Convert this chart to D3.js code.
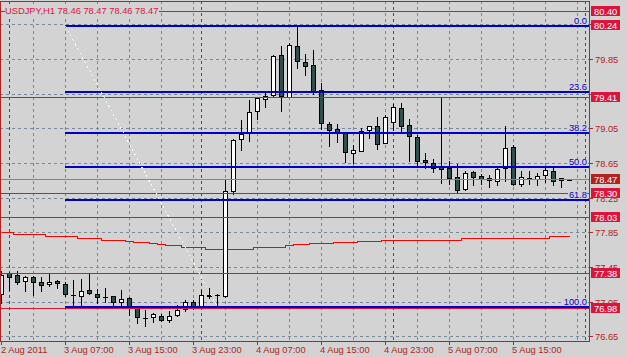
<!DOCTYPE html>
<html>
<head>
<meta charset="utf-8">
<script src="https://cdn.jsdelivr.net/npm/d3@7"></script>
<style>
  html, body { margin: 0; padding: 0; background: #d3d3d3; overflow: hidden; }
  svg { display: block; }
  text { font-family: "Liberation Sans", Arial, sans-serif; font-size: 9.3px; }
</style>
</head>
<body>
<div id="chart"></div>
<script>
// USDJPY H1, one value per hourly bar (bar 0 = 2 Aug 2011 23:00)
const symbol = 'USDJPY,H1';
const lastOHLC = [78.46, 78.47, 78.46, 78.47];

const open = [
  77.145, 77.376, 77.353, 77.287, 77.341, 77.283, 77.255, 77.290, 77.257, 77.130,
  77.119, 77.188, 77.145, 77.100, 77.111, 77.047, 77.095, 76.980, 76.865, 76.876,
  76.888, 76.845, 76.895, 76.964, 77.049, 76.980, 77.120, 77.133, 77.114, 78.324,
  78.928, 78.997, 79.251, 79.385, 79.435, 79.897, 79.412, 80.004, 79.816, 79.785,
  79.493, 79.101, 79.047, 79.001, 78.767, 78.790, 79.035, 79.078, 78.882, 79.124,
  79.286, 79.090, 78.951, 78.686, 78.652, 78.606, 78.594, 78.490, 78.347, 78.551,
  78.502, 78.482, 78.439, 78.589, 78.836, 78.405, 78.476, 78.467, 78.509, 78.563,
  78.456, 78.460
];
const high = [
  77.399, 77.393, 77.410, 77.349, 77.349, 77.341, 77.379, 77.303, 77.275, 77.306,
  77.318, 77.379, 77.200, 77.214, 77.117, 77.191, 77.104, 76.984, 76.952, 76.922,
  76.903, 76.941, 77.018, 77.072, 77.075, 77.180, 77.211, 77.141, 78.471, 78.932,
  79.151, 79.381, 79.404, 79.473, 79.897, 80.004, 80.035, 80.234, 79.912, 79.958,
  79.574, 79.124, 79.105, 79.004, 78.863, 79.050, 79.082, 79.182, 79.208, 79.335,
  79.343, 79.159, 78.978, 78.767, 78.701, 79.412, 78.678, 78.644, 78.563, 78.555,
  78.528, 78.513, 78.617, 79.082, 78.859, 78.555, 78.563, 78.532, 78.606, 78.594,
  78.482, 78.470
];
const low = [
  77.041, 77.180, 77.249, 77.171, 77.133, 77.170, 77.230, 77.211, 77.114, 76.980,
  77.000, 77.142, 77.033, 77.044, 77.018, 77.018, 76.897, 76.803, 76.768, 76.814,
  76.826, 76.814, 76.883, 76.941, 76.969, 76.978, 77.095, 76.987, 77.110, 78.294,
  78.797, 78.901, 79.159, 79.297, 79.408, 79.246, 79.410, 79.747, 79.669, 79.442,
  79.047, 78.843, 78.890, 78.663, 78.652, 78.788, 78.940, 78.813, 78.880, 79.036,
  79.009, 78.670, 78.606, 78.594, 78.543, 78.416, 78.410, 78.317, 78.336, 78.402,
  78.413, 78.375, 78.393, 78.439, 78.393, 78.382, 78.405, 78.393, 78.428, 78.393,
  78.370, 78.460
];
const close = [
  77.364, 77.335, 77.275, 77.330, 77.275, 77.240, 77.280, 77.264, 77.142, 77.130,
  77.176, 77.149, 77.105, 77.100, 77.045, 77.087, 76.980, 76.876, 76.865, 76.903,
  76.840, 76.888, 76.957, 77.049, 76.976, 77.122, 77.130, 77.133, 78.324, 78.920,
  78.986, 79.240, 79.401, 79.424, 79.885, 79.419, 80.012, 79.823, 79.765, 79.477,
  79.108, 79.032, 79.004, 78.778, 78.801, 79.024, 79.078, 78.871, 79.182, 79.297,
  79.078, 78.963, 78.670, 78.663, 78.594, 78.583, 78.479, 78.340, 78.540, 78.486,
  78.467, 78.456, 78.586, 78.825, 78.405, 78.490, 78.479, 78.505, 78.574, 78.439,
  78.479, 78.470
];
// slow moving average (red line)
const ma = [
  77.849, 77.849, 77.837, 77.837, 77.826, 77.826, 77.814, 77.814, 77.803, 77.803,
  77.791, 77.780, 77.780, 77.768, 77.757, 77.757, 77.745, 77.734, 77.734, 77.722,
  77.711, 77.699, 77.699, 77.687, 77.676, 77.676, 77.664, 77.664, 77.664, 77.664,
  77.664, 77.664, 77.676, 77.676, 77.687, 77.687, 77.699, 77.711, 77.711, 77.722,
  77.722, 77.722, 77.734, 77.734, 77.734, 77.745, 77.745, 77.745, 77.757, 77.757,
  77.757, 77.768, 77.768, 77.768, 77.768, 77.768, 77.768, 77.768, 77.780, 77.780,
  77.780, 77.780, 77.780, 77.780, 77.791, 77.791, 77.791, 77.791, 77.791, 77.803,
  77.803, 77.803
];

const priceTicks = [80.25, 79.85, 79.45, 79.05, 78.65, 78.25, 77.85, 77.45, 77.05, 76.65];
const hLines = [80.40, 79.41, 78.30, 78.03, 77.38, 76.98];
const lineLabels = [80.40, 80.24, 79.41, 78.30, 78.03, 77.38, 76.98];
const bid = 78.47;

const fibLevels = [0.0, 23.6, 38.2, 50.0, 61.8, 100.0];
const fibFrom = { bar: 8, price: 80.24 };
const fibTo = { bar: 27, price: 77.00 };

const timeTickBars = [0, 8, 16, 24, 32, 40, 48, 56, 64];
const timeTickLabels = ['2 Aug 2011', '3 Aug 07:00', '3 Aug 15:00', '3 Aug 23:00', '4 Aug 07:00',
  '4 Aug 15:00', '4 Aug 23:00', '5 Aug 07:00', '5 Aug 15:00'];
const daySeparatorBars = [1, 25, 49, 73];

const W = 627, H = 357;
const plot = { left: 0, right: 589, top: 1, bottom: 341 };

const bg = '#d3d3d3';
const fg = '#b22222';
const gridColor = '#778899';
const lineColor = '#dc143c';
const fibColor = '#0000cd';

const x = d3.scaleLinear().domain([0, 73]).range([1, 585]);
const y = d3.scaleLinear().domain([76.65, 80.25]).range([336.9, 24.9]);
const row = p => Math.floor(y(p));

const svg = d3.select('#chart').append('svg')
  .attr('width', W).attr('height', H)
  .attr('shape-rendering', 'crispEdges');

svg.append('rect').attr('width', W).attr('height', H).attr('fill', bg);

svg.append('clipPath').attr('id', 'plotclip')
  .append('rect')
  .attr('x', plot.left + 1).attr('y', plot.top + 1)
  .attr('width', plot.right - plot.left - 1).attr('height', plot.bottom - plot.top - 1);

const g = svg.append('g').attr('clip-path', 'url(#plotclip)');

// grid
g.append('g').selectAll('line.hgrid')
  .data(priceTicks)
  .join('line')
  .attr('x1', 0).attr('x2', plot.right)
  .attr('y1', d => row(d) + 0.5).attr('y2', d => row(d) + 0.5)
  .attr('stroke', gridColor).attr('stroke-dasharray', '3,3');

g.append('g').selectAll('line.vgrid')
  .data(d3.range(4, 73, 4))
  .join('line')
  .attr('x1', d => x(d) + 0.5).attr('x2', d => x(d) + 0.5)
  .attr('y1', plot.top).attr('y2', plot.bottom)
  .attr('stroke', gridColor).attr('stroke-dasharray', '3,3');

// day separators
g.append('g').selectAll('line')
  .data(daySeparatorBars)
  .join('line')
  .attr('x1', d => x(d) + 0.5).attr('x2', d => x(d) + 0.5)
  .attr('y1', plot.top).attr('y2', plot.bottom)
  .attr('stroke', fg).attr('stroke-dasharray', '3,3');

// moving average
const maLine = d3.line()
  .x((d, i) => x(i) + 0.5)
  .y(d => row(d) + 0.5)
  .curve(d3.curveStep);
g.append('path')
  .datum(ma)
  .attr('d', maLine)
  .attr('fill', 'none')
  .attr('stroke', '#ff0000');

// candles
const bars = open.map((o, i) => ({ i, o, h: high[i], l: low[i], c: close[i] }));
const candle = g.append('g').selectAll('g')
  .data(bars)
  .join('g');

candle.append('line')
  .attr('x1', d => x(d.i) + 0.5).attr('x2', d => x(d.i) + 0.5)
  .attr('y1', d => row(d.h)).attr('y2', d => row(d.l) + 1)
  .attr('stroke', '#000');

candle.each(function (d) {
  const sel = d3.select(this);
  const top = row(Math.max(d.o, d.c));
  const bot = row(Math.min(d.o, d.c));
  const cx = x(d.i);
  if (bot - top < 1) {
    sel.append('line')
      .attr('x1', cx - 2).attr('x2', cx + 3)
      .attr('y1', top + 0.5).attr('y2', top + 0.5)
      .attr('stroke', '#000');
  } else {
    sel.append('rect')
      .attr('x', cx - 1.5).attr('y', top + 0.5)
      .attr('width', 4).attr('height', bot - top)
      .attr('fill', d.c >= d.o ? '#ffffff' : '#2f4f4f')
      .attr('stroke', '#000');
  }
});

// horizontal lines
g.append('g').selectAll('line')
  .data(hLines)
  .join('line')
  .attr('x1', 0).attr('x2', plot.right)
  .attr('y1', d => row(d) + 0.5).attr('y2', d => row(d) + 0.5)
  .attr('stroke', lineColor);

// bid line
g.append('line')
  .attr('x1', 0).attr('x2', plot.right)
  .attr('y1', row(bid) + 0.5).attr('y2', row(bid) + 0.5)
  .attr('stroke', gridColor);

// fibonacci retracement
const fibY0 = Math.round(y(fibFrom.price));
const fibY1 = Math.round(y(fibTo.price));
const fibY = lv => Math.round(fibY0 + (fibY1 - fibY0) * lv / 100);

g.append('g').selectAll('line')
  .data(fibLevels)
  .join('line')
  .attr('x1', x(fibFrom.bar)).attr('x2', plot.right)
  .attr('y1', d => fibY(d)).attr('y2', d => fibY(d))
  .attr('stroke', fibColor).attr('stroke-width', 2);

g.append('line')
  .attr('x1', x(fibFrom.bar) + 0.5).attr('y1', fibY0)
  .attr('x2', x(fibTo.bar) + 0.5).attr('y2', fibY1)
  .attr('stroke', '#fffbe6').attr('stroke-dasharray', '2,3');

const fibText = g.append('g').selectAll('g')
  .data(fibLevels)
  .join('g');
fibText.append('text')
  .attr('x', 587).attr('y', d => fibY(d) - 2)
  .attr('text-anchor', 'end')
  .attr('fill', fibColor)
  .text(d => d.toFixed(1));
fibText.insert('rect', 'text')
  .each(function () {
    const b = this.parentNode.querySelector('text').getBBox();
    d3.select(this)
      .attr('x', b.x - 1).attr('y', b.y + 2)
      .attr('width', b.width + 1).attr('height', b.height - 3)
      .attr('fill', bg);
  });

// frame
svg.append('rect')
  .attr('x', plot.left + 0.5).attr('y', plot.top + 0.5)
  .attr('width', plot.right - plot.left).attr('height', plot.bottom - plot.top)
  .attr('fill', 'none').attr('stroke', fg);

// price axis
const yAxis = svg.append('g');
yAxis.selectAll('line')
  .data(priceTicks)
  .join('line')
  .attr('x1', plot.right).attr('x2', plot.right + 4)
  .attr('y1', d => row(d) + 0.5).attr('y2', d => row(d) + 0.5)
  .attr('stroke', fg);
yAxis.selectAll('text')
  .data(priceTicks)
  .join('text')
  .attr('x', 595).attr('y', d => row(d) + 4)
  .attr('fill', fg)
  .text(d => d.toFixed(2));

// price boxes for lines and bid
const boxes = lineLabels.map(p => ({ p, fill: lineColor })).concat([{ p: bid, fill: fg }]);
const box = svg.append('g').selectAll('g')
  .data(boxes)
  .join('g');
box.append('rect')
  .attr('x', 591).attr('y', d => row(d.p) - 5)
  .attr('width', 29).attr('height', 10)
  .attr('fill', d => d.fill);
box.append('text')
  .attr('x', 594).attr('y', d => row(d.p) + 3.5)
  .attr('fill', '#fff')
  .text(d => d.p.toFixed(2));

// time axis
const xAxis = svg.append('g');
xAxis.selectAll('line')
  .data(timeTickBars)
  .join('line')
  .attr('x1', d => x(d) + 0.5).attr('x2', d => x(d) + 0.5)
  .attr('y1', plot.bottom).attr('y2', plot.bottom + 4)
  .attr('stroke', fg);
xAxis.selectAll('text')
  .data(timeTickBars)
  .join('text')
  .attr('x', d => Math.max(x(d) - 1, 1)).attr('y', 353)
  .attr('fill', fg)
  .text((d, i) => timeTickLabels[i]);

// title
const title = svg.append('g');
const tt = title.append('text')
  .attr('x', 5).attr('y', 14)
  .attr('fill', lineColor)
  .text(symbol + ' ' + lastOHLC.map(v => v.toFixed(2)).join(' '));
const tb = tt.node().getBBox();
title.insert('rect', 'text')
  .attr('x', tb.x).attr('y', 4)
  .attr('width', tb.width + 1).attr('height', 12)
  .attr('fill', bg);
</script>
</body>
</html>
